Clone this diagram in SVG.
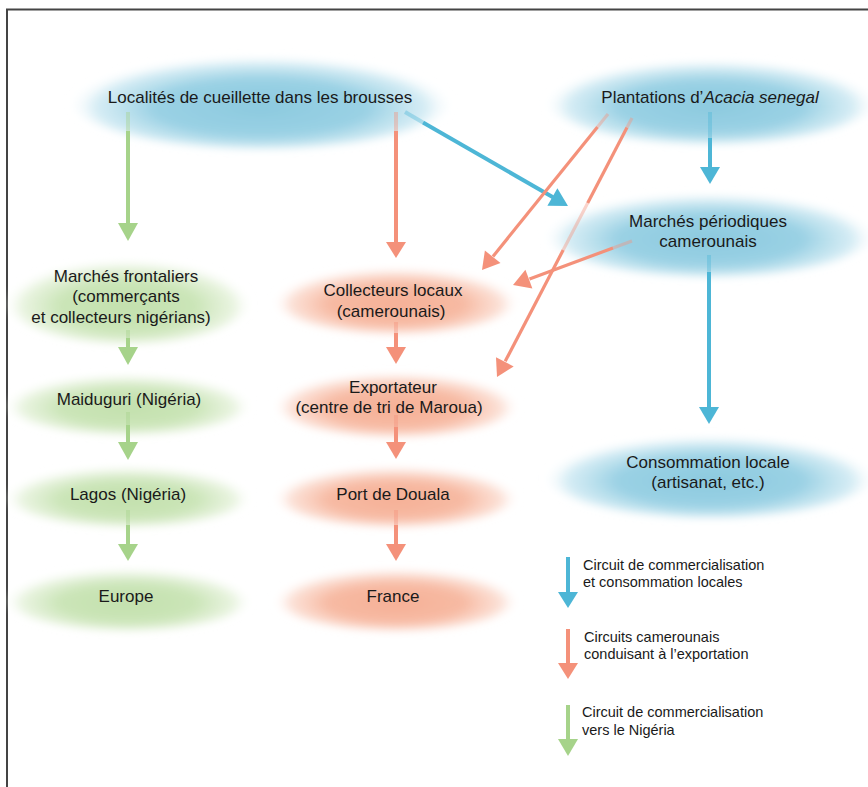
<svg xmlns="http://www.w3.org/2000/svg" width="868" height="787" viewBox="0 0 868 787">
<style>
  text { font-family: "Liberation Sans", Arial, sans-serif; fill: #1a1a1a; }
  .n { font-size: 17px; text-anchor: middle; }
  .lg { font-size: 14.5px; }
  .b { stroke: #4db6d6; fill: none; }
  .o { stroke: #f4917a; fill: none; }
  .g { stroke: #a6d38a; fill: none; }
  .hb { fill: #4db6d6; }
  .ho { fill: #f4917a; }
  .hg { fill: #a6d38a; }
  .f { stroke-opacity: 0.4; }
  .w4 { stroke-width: 4; }
  .w3 { stroke-width: 3.2; }
</style>
<defs>
  <radialGradient id="gb" cx="0.5" cy="0.6" r="0.5">
    <stop offset="0" stop-color="#8ccadf"/>
    <stop offset="0.55" stop-color="#9ad1e4"/>
    <stop offset="0.85" stop-color="#cbe8f2" stop-opacity="0.8"/>
    <stop offset="1" stop-color="#ffffff" stop-opacity="0"/>
  </radialGradient>
  <radialGradient id="gg" cx="0.5" cy="0.6" r="0.5">
    <stop offset="0" stop-color="#c3e0ad"/>
    <stop offset="0.55" stop-color="#cbe5b8"/>
    <stop offset="0.85" stop-color="#e3f1d8" stop-opacity="0.8"/>
    <stop offset="1" stop-color="#ffffff" stop-opacity="0"/>
  </radialGradient>
  <radialGradient id="go" cx="0.5" cy="0.6" r="0.5">
    <stop offset="0" stop-color="#f6b096"/>
    <stop offset="0.55" stop-color="#f7baa3"/>
    <stop offset="0.85" stop-color="#fbd9cc" stop-opacity="0.8"/>
    <stop offset="1" stop-color="#ffffff" stop-opacity="0"/>
  </radialGradient>
  <filter id="soft" x="-20%" y="-40%" width="140%" height="180%">
    <feGaussianBlur stdDeviation="4"/>
  </filter>
</defs>

<rect width="868" height="787" fill="#ffffff"/>
<path d="M7,787 V9.5 H868" fill="none" stroke="#444" stroke-width="2"/>

<!-- nodes -->
<g id="localites">
  <ellipse cx="261" cy="97" rx="194" ry="51" fill="url(#gb)" filter="url(#soft)"/>
  <text class="n" x="260" y="103">Localités de cueillette dans les brousses</text>
</g>
<g id="plantations">
  <ellipse cx="711" cy="97" rx="168" ry="46" fill="url(#gb)" filter="url(#soft)"/>
  <text class="n" x="710" y="103">Plantations d’<tspan font-style="italic">Acacia senegal</tspan></text>
</g>
<g id="marches-periodiques">
  <ellipse cx="710" cy="230" rx="168" ry="46" fill="url(#gb)" filter="url(#soft)"/>
  <text class="n" x="708" y="227">Marchés périodiques</text>
  <text class="n" x="708" y="247">camerounais</text>
</g>
<g id="consommation">
  <ellipse cx="710" cy="472" rx="168" ry="45" fill="url(#gb)" filter="url(#soft)"/>
  <text class="n" x="708" y="468">Consommation locale</text>
  <text class="n" x="708" y="488">(artisanat, etc.)</text>
</g>
<g id="marches-frontaliers">
  <ellipse cx="128" cy="297" rx="125" ry="46" fill="url(#gg)" filter="url(#soft)"/>
  <text class="n" x="126" y="282">Marchés frontaliers</text>
  <text class="n" x="126" y="302">(commerçants</text>
  <text class="n" x="121" y="323">et collecteurs nigérians)</text>
</g>
<g id="maiduguri">
  <ellipse cx="128" cy="401" rx="125" ry="33" fill="url(#gg)" filter="url(#soft)"/>
  <text class="n" x="129" y="405">Maiduguri (Nigéria)</text>
</g>
<g id="lagos">
  <ellipse cx="128" cy="493" rx="125" ry="33" fill="url(#gg)" filter="url(#soft)"/>
  <text class="n" x="128" y="500">Lagos (Nigéria)</text>
</g>
<g id="europe">
  <ellipse cx="128" cy="596" rx="125" ry="34" fill="url(#gg)" filter="url(#soft)"/>
  <text class="n" x="126" y="602">Europe</text>
</g>
<g id="collecteurs">
  <ellipse cx="396" cy="297" rx="124" ry="36" fill="url(#go)" filter="url(#soft)"/>
  <text class="n" x="393" y="296">Collecteurs locaux</text>
  <text class="n" x="391" y="317">(camerounais)</text>
</g>
<g id="exportateur">
  <ellipse cx="396" cy="401" rx="124" ry="35" fill="url(#go)" filter="url(#soft)"/>
  <text class="n" x="393" y="393">Exportateur</text>
  <text class="n" x="389" y="413">(centre de tri de Maroua)</text>
</g>
<g id="douala">
  <ellipse cx="396" cy="493" rx="124" ry="33" fill="url(#go)" filter="url(#soft)"/>
  <text class="n" x="393" y="500">Port de Douala</text>
</g>
<g id="france">
  <ellipse cx="396" cy="596" rx="124" ry="34" fill="url(#go)" filter="url(#soft)"/>
  <text class="n" x="393" y="602">France</text>
</g>

<!-- connectors -->
<g id="connectors">
  <!-- green column -->
  <line class="g w4 f" x1="128" y1="112" x2="128" y2="131"/>
  <line class="g w4" x1="128" y1="131" x2="128" y2="224"/>
  <polygon class="hg" points="118,223 138,223 128,241"/>
  <line class="g w4 f" x1="128" y1="330" x2="128" y2="338"/>
  <line class="g w4" x1="128" y1="338" x2="128" y2="348"/>
  <polygon class="hg" points="118,347 138,347 128,365"/>
  <line class="g w4 f" x1="128" y1="412" x2="128" y2="425"/>
  <line class="g w4" x1="128" y1="425" x2="128" y2="443"/>
  <polygon class="hg" points="118,442 138,442 128,460"/>
  <line class="g w4 f" x1="128" y1="510" x2="128" y2="525"/>
  <line class="g w4" x1="128" y1="525" x2="128" y2="545"/>
  <polygon class="hg" points="118,544 138,544 128,561"/>

  <!-- orange column -->
  <line class="o w4 f" x1="396" y1="112" x2="396" y2="131"/>
  <line class="o w4" x1="396" y1="131" x2="396" y2="243"/>
  <polygon class="ho" points="386,242 406,242 396,258"/>
  <line class="o w4 f" x1="396" y1="322" x2="396" y2="333"/>
  <line class="o w4" x1="396" y1="333" x2="396" y2="348"/>
  <polygon class="ho" points="386,347 406,347 396,364"/>
  <line class="o w4 f" x1="396" y1="415" x2="396" y2="427"/>
  <line class="o w4" x1="396" y1="427" x2="396" y2="443"/>
  <polygon class="ho" points="386,442 406,442 396,459"/>
  <line class="o w4 f" x1="396" y1="510" x2="396" y2="525"/>
  <line class="o w4" x1="396" y1="525" x2="396" y2="545"/>
  <polygon class="ho" points="386,544 406,544 396,561"/>

  <!-- Localites -> Marches periodiques (blue) -->
  <line class="b w4 f" x1="405" y1="112" x2="423" y2="122.4"/>
  <line class="b w4" x1="423" y1="122.4" x2="553" y2="197.3"/>
  <polygon class="hb" points="547.4,205.7 557.4,188.3 568,206"/>

  <!-- Plantations -> Marches periodiques (blue) -->
  <line class="b w4 f" x1="710" y1="112" x2="710" y2="138"/>
  <line class="b w4" x1="710" y1="138" x2="710" y2="168"/>
  <polygon class="hb" points="700,167 720,167 710,184"/>

  <!-- Marches periodiques -> Consommation (blue) -->
  <line class="b w4 f" x1="709" y1="255" x2="709" y2="272"/>
  <line class="b w4" x1="709" y1="272" x2="709" y2="408"/>
  <polygon class="hb" points="699,407 719,407 709,424"/>

  <!-- Plantations -> Collecteurs (orange) -->
  <line class="o w3 f" x1="608" y1="114" x2="597.5" y2="127"/>
  <line class="o w3" x1="597.5" y1="127" x2="493" y2="256.4"/>
  <polygon class="ho" points="484.9,250.5 500.5,263.1 482,270"/>

  <!-- Plantations -> Exportateur (orange) -->
  <line class="o w3 f" x1="632" y1="118" x2="627" y2="127.6"/>
  <line class="o w3" x1="627" y1="127.6" x2="587.7" y2="203"/>
  <line class="o w3 f" x1="587.7" y1="203" x2="563.2" y2="250"/>
  <line class="o w3" x1="563.2" y1="250" x2="505.2" y2="361.3"/>
  <polygon class="ho" points="496,357.3 513.7,366.5 497,377"/>

  <!-- Marches periodiques -> Collecteurs (orange) -->
  <line class="o w3 f" x1="632" y1="241" x2="613" y2="248"/>
  <line class="o w3" x1="613" y1="248" x2="529.5" y2="278.9"/>
  <polygon class="ho" points="525.4,269.7 532.4,288.5 513,285"/>
</g>

<!-- legend -->
<g id="legend">
  <line class="b w4" x1="568" y1="557" x2="568" y2="593"/>
  <polygon class="hb" points="558,592 578,592 568,608"/>
  <text class="lg" x="583" y="570">Circuit de commercialisation</text>
  <text class="lg" x="583" y="587">et consommation locales</text>

  <line class="o w4" x1="568" y1="629" x2="568" y2="664"/>
  <polygon class="ho" points="558,663 578,663 568,679"/>
  <text class="lg" x="584" y="642">Circuits camerounais</text>
  <text class="lg" x="584" y="659">conduisant à l’exportation</text>

  <line class="g w4" x1="568" y1="705" x2="568" y2="740"/>
  <polygon class="hg" points="558,739 578,739 568,756"/>
  <text class="lg" x="582" y="717">Circuit de commercialisation</text>
  <text class="lg" x="582" y="735">vers le Nigéria</text>
</g>
</svg>
